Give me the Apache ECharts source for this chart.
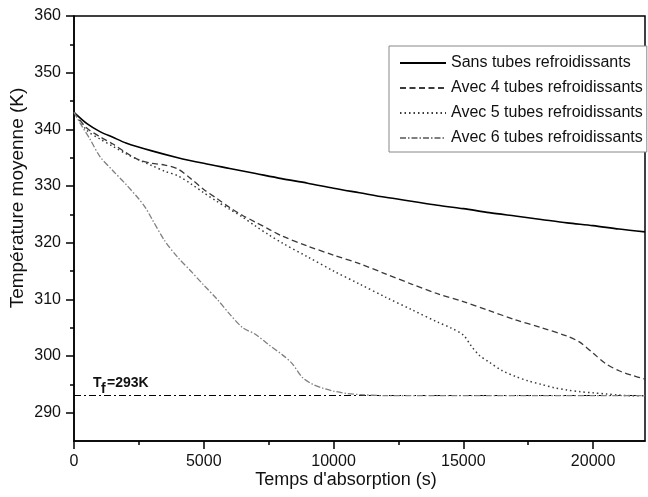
<!DOCTYPE html>
<html>
<head>
<meta charset="utf-8">
<script src="https://cdn.jsdelivr.net/npm/echarts@6/dist/echarts.min.js"></script>
<style>
  html, body { margin: 0; padding: 0; background: #fff; }
  #chart { width: 648px; height: 497px; }
</style>
</head>
<body>
<div id="chart"></div>
<script>
// series names (legend)
const seriesNames = [
  'Sans tubes refroidissants',
  'Avec 4 tubes refroidissants',
  'Avec 5 tubes refroidissants',
  'Avec 6 tubes refroidissants'
]

// Sans tubes
const timeSans = [0, 500, 1000, 1500, 2000, 3000, 4000, 5000, 6000, 7000, 8000, 9000, 10000, 11000, 12000, 13000, 14000, 15000, 16000, 17000, 18000, 19000, 20000, 21000, 22000]
const tempSans = [343, 341.0, 339.6, 338.6, 337.6, 336.2, 335.0, 334.0, 333.1, 332.2, 331.3, 330.5, 329.6, 328.8, 328.0, 327.3, 326.6, 326.0, 325.3, 324.7, 324.1, 323.5, 323.0, 322.4, 321.9]

// 4 tubes
const time4 = [0, 500, 1000, 1500, 2000, 2500, 3000, 3500, 4000, 4500, 5000, 5500, 6000, 6500, 7000, 7500, 8000, 9000, 10000, 11000, 12000, 13000, 14000, 15000, 16000, 17000, 18000, 19000, 19500, 20000, 20500, 21000, 21500, 22000]
const temp4 = [343, 340.2, 338.7, 337.4, 335.9, 334.6, 334.0, 333.7, 333.0, 331.3, 329.4, 327.8, 326.2, 324.8, 323.6, 322.4, 321.2, 319.4, 317.8, 316.3, 314.5, 312.7, 311.0, 309.6, 308.0, 306.4, 305.0, 303.5, 302.4, 300.5, 298.6, 297.4, 296.6, 295.9]

// 5 tubes
const time5 = [0, 500, 1000, 1500, 2000, 2500, 3000, 3500, 4000, 4500, 5000, 5500, 6000, 6500, 7000, 7500, 8000, 9000, 10000, 11000, 12000, 13000, 14000, 14500, 15000, 15300, 15600, 16000, 16500, 17000, 17500, 18000, 18500, 19000, 19500, 20000, 20500, 21000, 21500, 22000]
const temp5 = [343, 339.8, 338.3, 337.0, 335.7, 334.6, 333.6, 332.6, 331.8, 330.4, 328.8, 327.3, 325.9, 324.5, 322.9, 321.4, 320.0, 317.5, 315.0, 312.7, 310.4, 308.2, 306.0, 305.0, 303.7, 301.8, 300.2, 298.9, 297.4, 296.4, 295.6, 295.0, 294.4, 294.0, 293.7, 293.5, 293.3, 293.1, 293.0, 293.0]

// 6 tubes
const time6 = [0, 300, 600, 1000, 1500, 2000, 2500, 2750, 3000, 3500, 4000, 4500, 5000, 5500, 6000, 6500, 7000, 7500, 8000, 8400, 8800, 9200, 9600, 10000, 10500, 11000, 12000, 14000, 16000, 18000, 20000, 22000]
const temp6 = [343, 340.6, 338.4, 335.2, 332.7, 330.3, 327.7, 326.2, 324.2, 320.3, 317.4, 315.0, 312.5, 310.1, 307.4, 305.0, 303.8, 302.0, 300.3, 298.7, 296.2, 295.0, 294.3, 293.8, 293.4, 293.2, 293.0, 293.0, 293.0, 293.0, 293.0, 293.0]

// fluid temperature
const tempFluid = 293

// ticks
const xMajorTicks = [0, 5000, 10000, 15000, 20000]
const xMinorTicks = [2500, 7500, 12500, 17500]
const yMajorTicks = [290, 300, 310, 320, 330, 340, 350, 360]
const yMinorTicks = [295, 305, 315, 325, 335, 345, 355]

const FONT = 'Liberation Sans, Arial, sans-serif'

function pairs(ts, vs) {
  return ts.map((t, i) => [t, vs[i]])
}

const chart = echarts.init(document.getElementById('chart'), null, { renderer: 'canvas' })

const seriesStyles = [
  { color: '#000', width: 1.6, type: 'solid' },
  { color: '#3a3a3a', width: 1.3, type: [6, 3.5] },
  { color: '#3a3a3a', width: 1.5, type: [1.5, 3] },
  { color: '#808080', width: 1.3, type: [6, 2, 1.5, 2] }
]
const seriesData = [
  pairs(timeSans, tempSans),
  pairs(time4, temp4),
  pairs(time5, temp5),
  pairs(time6, temp6)
]

const series = seriesNames.map((name, i) => ({
  name: name,
  type: 'line',
  data: seriesData[i],
  symbol: 'none',
  smooth: 0.3,
  color: seriesStyles[i].color,
  lineStyle: seriesStyles[i],
  z: 3 + i
}))

// Tf line
series[0].markLine = {
  silent: true,
  symbol: ['none', 'none'],
  label: { show: false },
  lineStyle: { color: '#000', width: 1.2, type: [7, 3, 2, 3] },
  data: [{ yAxis: tempFluid }]
}

chart.setOption({
  animation: false,
  backgroundColor: '#fff',
  grid: {
    left: 74,
    top: 16,
    right: 3,
    bottom: 56,
    show: true,
    borderColor: '#000',
    borderWidth: 1.5
  },
  legend: {
    data: seriesNames,
    orient: 'vertical',
    left: 389,
    top: 46,
    padding: [9, 4, 6, 10],
    itemWidth: 46,
    itemHeight: 14,
    itemGap: 9,
    borderColor: '#888',
    borderWidth: 1,
    backgroundColor: '#fff',
    itemStyle: { opacity: 0 },
    textStyle: { fontFamily: FONT, fontSize: 16, color: '#111' }
  },
  xAxis: [
    {
      type: 'value',
      min: 0,
      max: 22000,
      axisLine: { show: true, lineStyle: { color: '#000', width: 1.5 } },
      axisTick: { show: true, length: 8, customValues: xMajorTicks, lineStyle: { color: '#000', width: 1.5 } },
      axisLabel: {
        customValues: xMajorTicks,
        formatter: v => String(v),
        margin: 13,
        fontFamily: FONT,
        fontSize: 16,
        color: '#111'
      },
      splitLine: { show: false }
    },
    {
      type: 'value',
      position: 'bottom',
      min: 0,
      max: 22000,
      axisLine: { show: false },
      axisTick: { show: true, length: 4, customValues: xMinorTicks, lineStyle: { color: '#000', width: 1.5 } },
      axisLabel: { show: false },
      splitLine: { show: false }
    }
  ],
  yAxis: [
    {
      type: 'value',
      min: 285,
      max: 360,
      axisLine: { show: true, lineStyle: { color: '#000', width: 1.5 } },
      axisTick: { show: true, length: 8, customValues: yMajorTicks, lineStyle: { color: '#000', width: 1.5 } },
      axisLabel: { customValues: yMajorTicks, margin: 13, fontFamily: FONT, fontSize: 16, color: '#111' },
      splitLine: { show: false }
    },
    {
      type: 'value',
      position: 'left',
      min: 285,
      max: 360,
      axisLine: { show: false },
      axisTick: { show: true, length: 4, customValues: yMinorTicks, lineStyle: { color: '#000', width: 1.5 } },
      axisLabel: { show: false },
      splitLine: { show: false }
    }
  ],
  graphic: [
    {
      type: 'text',
      x: 346,
      y: 480,
      style: {
        text: "Temps d'absorption (s)",
        font: '18px ' + FONT,
        fill: '#111',
        textAlign: 'center',
        textVerticalAlign: 'middle'
      }
    },
    {
      type: 'text',
      x: 18,
      y: 198,
      rotation: Math.PI / 2,
      style: {
        text: 'Température moyenne (K)',
        font: '19px ' + FONT,
        fill: '#111',
        textAlign: 'center',
        textVerticalAlign: 'middle'
      }
    },
    {
      type: 'text',
      x: 93,
      y: 376,
      style: { text: 'T', font: 'bold 14px ' + FONT, fill: '#111' }
    },
    {
      type: 'text',
      x: 101,
      y: 382,
      style: { text: 'f', font: 'bold 14px ' + FONT, fill: '#111' }
    },
    {
      type: 'text',
      x: 107,
      y: 376,
      style: { text: '=293K', font: 'bold 14px ' + FONT, fill: '#111' }
    }
  ],
  series: series
})
</script>
</body>
</html>
